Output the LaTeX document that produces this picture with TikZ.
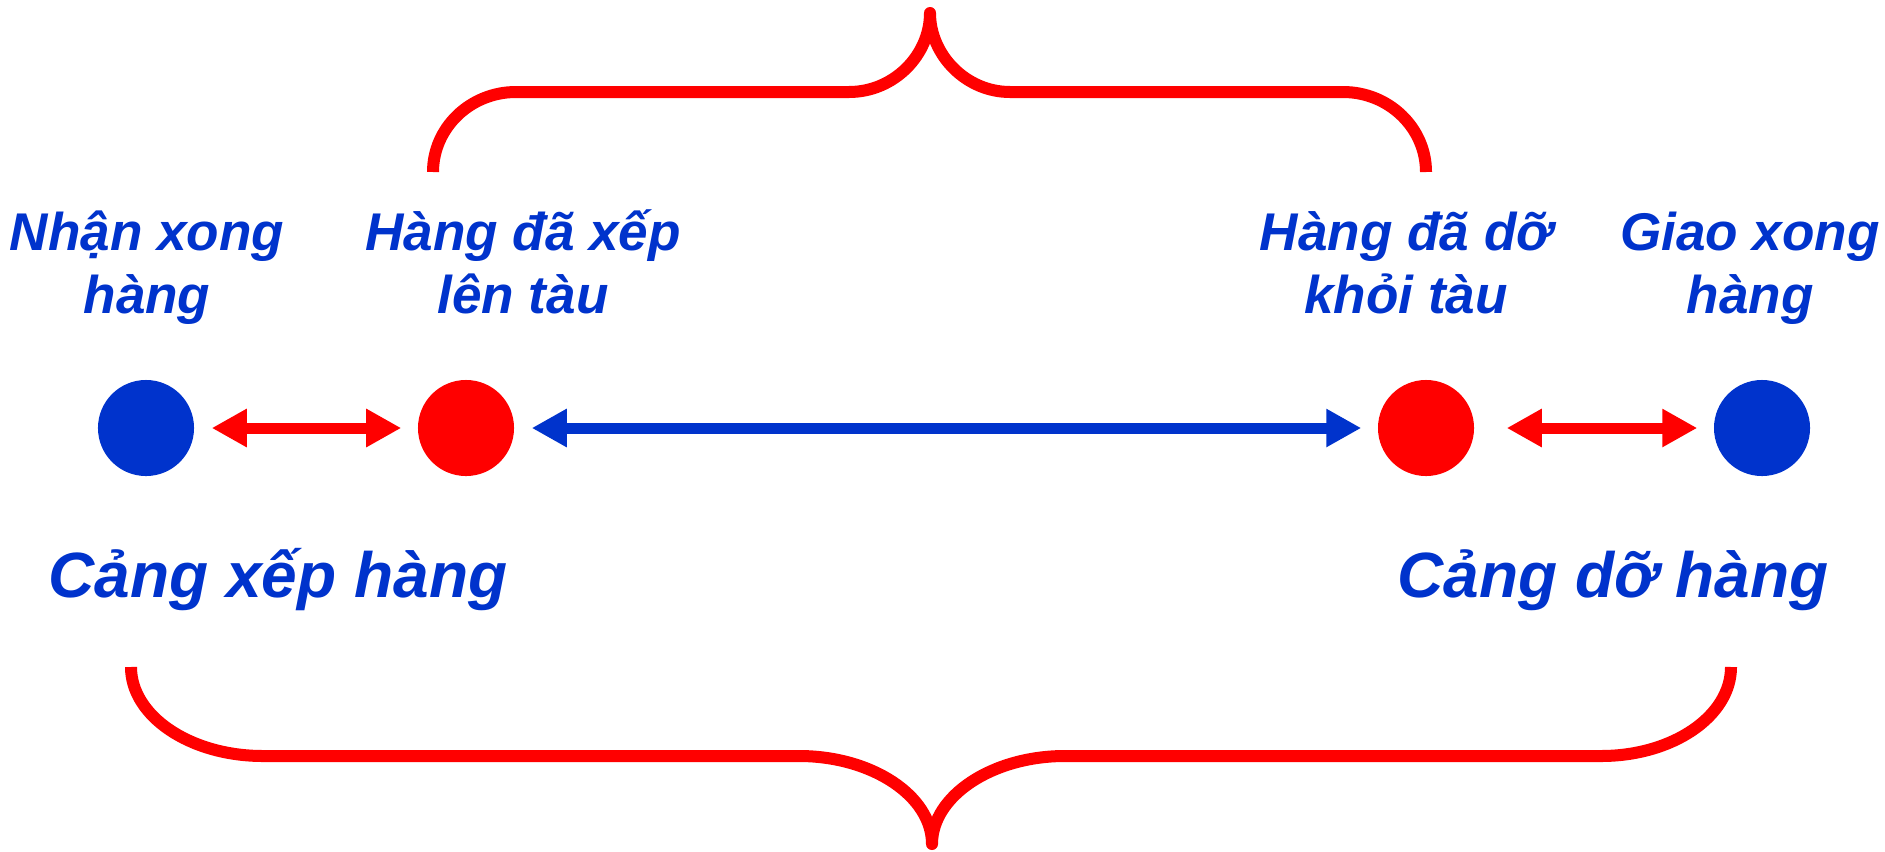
\documentclass[tikz,border=0pt]{standalone}
\usepackage{fontspec}
\setmainfont{Liberation Sans}
\usetikzlibrary{arrows.meta}
\definecolor{portblue}{RGB}{0,51,204}
\definecolor{portred}{RGB}{255,0,0}
\tikzstyle{blueball} = [circle, fill=portblue, minimum size=0.96cm, inner sep=0pt]
\tikzstyle{redball} = [circle, fill=portred, minimum size=0.96cm, inner sep=0pt]
\tikzstyle{smalltext} = [text=portblue, font=\fontsize{15.1}{17.9}\selectfont\bfseries\itshape, align=center, anchor=base, inner sep=0pt]
\tikzstyle{porttext} = [text=portblue, font=\fontsize{18.2}{22}\selectfont\bfseries\itshape, anchor=base, inner sep=0pt]
\tikzstyle{arrow} = [line width=0.11cm, {Triangle[length=0.35cm,width=0.36cm]}-{Triangle[length=0.35cm,width=0.36cm]}, shorten <=0.17cm, shorten >=0.16cm]
\tikzstyle{brace} = [draw=portred, line width=0.12cm, line join=round]

\begin{document}
\begin{tikzpicture}[x=0.01cm, y=-0.01cm]
	\useasboundingbox (0,0) rectangle (1885,851);
	\node (received) [blueball] at (146,428) {};
	\node (loaded) [redball] at (466,428) {};
	\node (unloaded) [redball] at (1426,428) {};
	\node (delivered) [blueball] at (1762,428) {};

	\node (lblreceived) [smalltext] at (147,313) {Nhận xong\\hàng};
	\node (lblloaded) [smalltext] at (523,313) {Hàng đã xếp\\lên tàu};
	\node (lblunloaded) [smalltext] at (1406,313) {Hàng đã dỡ\\khỏi tàu};
	\node (lbldelivered) [smalltext] at (1750,313) {Giao xong\\hàng};

	\node (loadport) [porttext] at (278,597) {Cảng xếp hàng};
	\node (unloadport) [porttext] at (1613,597) {Cảng dỡ hàng};

	\draw [arrow, draw=portred] (received) -- (loaded);
	\draw [arrow, draw=portblue] (loaded) -- (unloaded);
	\draw [arrow, draw=portred, shorten <=0.32cm] (unloaded) -- (delivered);

	% sea leg
	\draw [brace] (433,172) .. controls (433,128) and (470,92) .. (516,92) -- (849,92)
		.. controls (894,92) and (930,55) .. (930,13) .. controls (930,55) and (966,92) .. (1010,92)
		-- (1343,92) .. controls (1389,92) and (1426,128) .. (1426,172);
	% whole transport
	\draw [brace] (131,667) .. controls (131,716) and (190,756) .. (263,756) -- (799,756)
		.. controls (872,756) and (932,796) .. (932,844) .. controls (932,796) and (992,756) .. (1065,756)
		-- (1601,756) .. controls (1673,756) and (1731,716) .. (1731,667);
\end{tikzpicture}
\end{document}
